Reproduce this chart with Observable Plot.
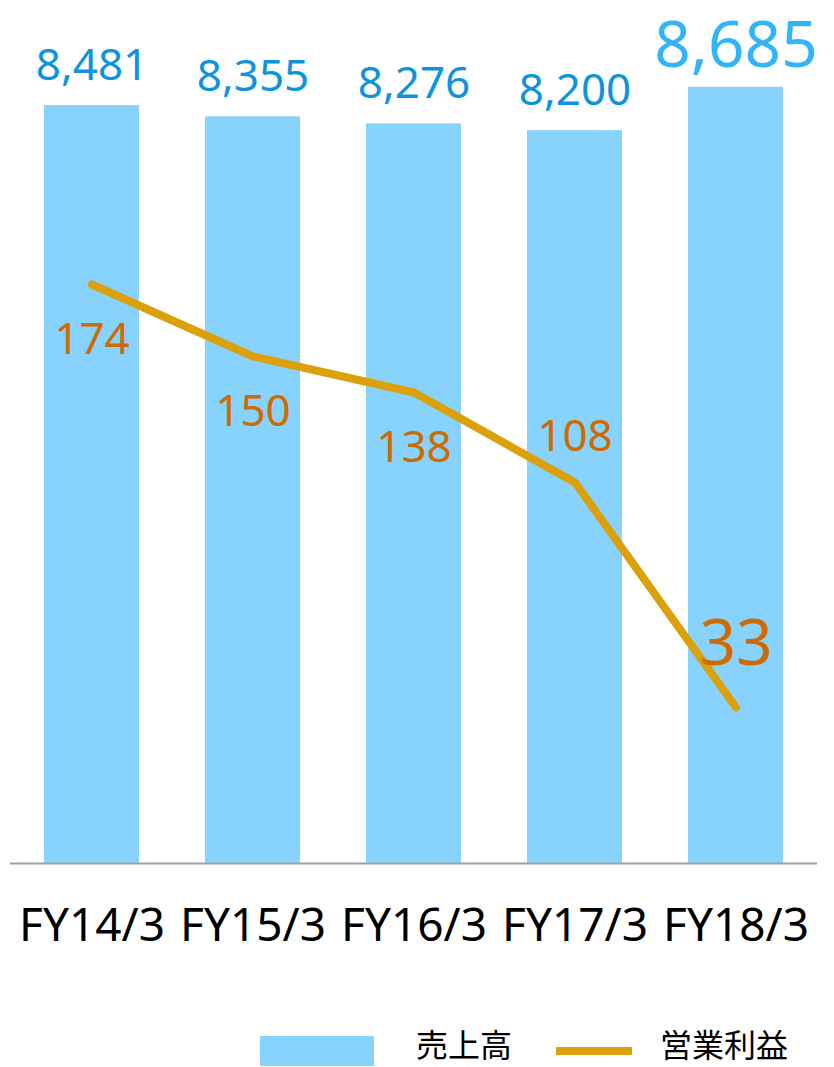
<!DOCTYPE html>
<html>
<head>
<meta charset="utf-8">
<script src="https://cdn.jsdelivr.net/npm/d3@7"></script>
<script src="https://cdn.jsdelivr.net/npm/@observablehq/plot@0.6"></script>
<style>
  html, body { margin: 0; padding: 0; background: #fff; }
  #wrap { position: relative; width: 834px; height: 1066px; }
  #legend { position: absolute; left: 0; top: 1036px; width: 834px; height: 30px;
    font-family: "Noto Sans CJK JP", "Noto Sans", sans-serif; font-size: 32px; color: #000; }
  .sw { position: absolute; }
  .lab { position: absolute; line-height: 30px; top: -8px; }
</style>
</head>
<body>
<div id="wrap"><div id="chart"></div><div id="legend"></div></div>
<script>
// Fiscal years, net sales (売上高) and operating profit (営業利益)
const years = ["FY14/3", "FY15/3", "FY16/3", "FY17/3", "FY18/3"];
const sales = [8481, 8355, 8276, 8200, 8685];
const profit = [174, 150, 138, 108, 33];
const seriesNames = ["売上高", "営業利益"];

const barColor = "#87D3FD";
const salesLabelColor = "#0E93DF";
const salesLatestColor = "#33B4F6";
const lineColor = "#DCA10A";
const profitLabelColor = "#D06A00";

const rows = years.map((year, i) => ({ year, sales: sales[i], profit: profit[i], i }));

// Operating profit sits on its own axis, mapped onto the sales axis range
const salesMax = 9500;
const profitAxis = d3.scaleLinear().domain([-19, 264]).range([0, salesMax]);
const py = d => profitAxis(d.profit);

const last = years.length - 1;
const font = "'Noto Sans', sans-serif";

const chart = Plot.plot({
  width: 834,
  height: 1000,
  marginTop: 14,
  marginBottom: 137,
  marginLeft: 10,
  marginRight: 17,
  style: { fontFamily: font, background: "#fff" },
  x: { domain: years, paddingInner: 0.41, paddingOuter: 0.2075, label: null },
  y: { domain: [0, salesMax], axis: null },
  marks: [
    Plot.barY(rows, { x: "year", y: "sales", fill: barColor }),
    Plot.ruleY([0], { stroke: "#A0A0A0", strokeWidth: 2 }),
    Plot.axisX({ tickSize: 0, tickPadding: 45, fontSize: 46, fill: "#000", label: null }),
    // sales value labels
    Plot.text(rows.filter(d => d.i < last), {
      x: "year", y: "sales", text: d => d3.format(",")(d.sales),
      dy: -40, fontSize: 44, fill: salesLabelColor, lineAnchor: "middle"
    }),
    Plot.text(rows.filter(d => d.i === last), {
      x: "year", y: "sales", text: d => d3.format(",")(d.sales),
      dy: -41, fontSize: 64, fill: salesLatestColor, lineAnchor: "middle"
    }),
    // operating profit line
    Plot.line(rows, {
      x: "year", y: py, stroke: lineColor, strokeWidth: 8,
      strokeLinecap: "round", strokeLinejoin: "round"
    }),
    Plot.text(rows.filter(d => d.i < 3), {
      x: "year", y: py, text: d => String(d.profit),
      dy: 55, fontSize: 44, fill: profitLabelColor, lineAnchor: "middle"
    }),
    Plot.text(rows.filter(d => d.i === 3), {
      x: "year", y: py, text: d => String(d.profit),
      dy: -46, fontSize: 44, fill: profitLabelColor, lineAnchor: "middle"
    }),
    Plot.text(rows.filter(d => d.i === last), {
      x: "year", y: py, text: d => String(d.profit),
      dy: -63, fontSize: 64, fill: profitLabelColor, lineAnchor: "middle"
    })
  ]
});
document.getElementById("chart").appendChild(chart);

// legend
const legend = document.getElementById("legend");
legend.innerHTML =
  `<div class="sw" style="left:260px;top:0;width:114px;height:30px;background:${barColor}"></div>` +
  `<div class="lab" style="left:416px">${seriesNames[0]}</div>` +
  `<div class="sw" style="left:556px;top:11px;width:76px;height:8px;background:${lineColor}"></div>` +
  `<div class="lab" style="left:660px">${seriesNames[1]}</div>`;
</script>
</body>
</html>
